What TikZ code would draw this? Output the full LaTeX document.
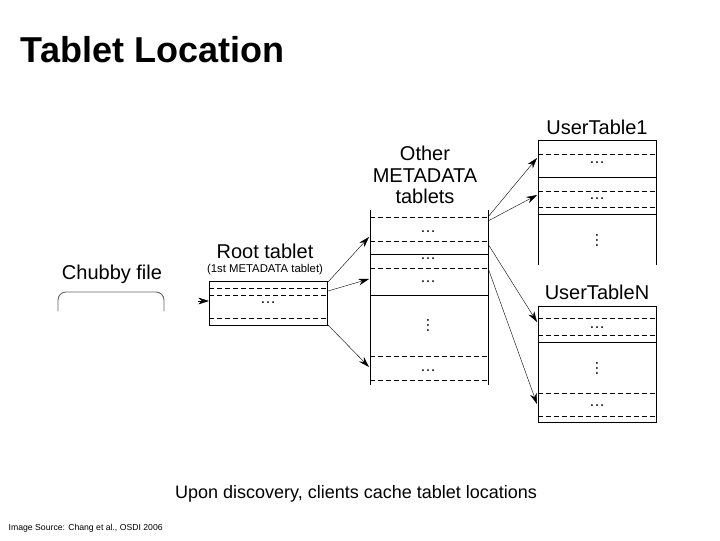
\documentclass[tikz,border=0pt]{standalone}
\usepackage{fontspec}
\setmainfont{Liberation Sans}
\usetikzlibrary{arrows.meta}
\begin{document}
\begin{tikzpicture}[x=0.75pt,y=-0.75pt,
  dsh/.style={dash pattern=on 3.5pt off 2.5pt,line width=0.5pt},
  sol/.style={line width=0.6pt},
  arr/.style={-{Stealth[length=8pt,width=5pt]},line width=0.3pt},
  lbl/.style={font=\fontsize{15}{16}\selectfont,align=center},
  dots/.style={font=\fontsize{12}{12}\selectfont,inner sep=0}]
\useasboundingbox (0,0) rectangle (720,540);
\node[font=\bfseries\fontsize{27}{30}\selectfont,anchor=west] (title) at (16,50) {Tablet Location};
% Chubby file
\node[lbl] (chubby) at (112,274) {Chubby file};
\draw[line width=0.7pt,black!60,rounded corners=6pt] (58,311) -- (58,292) -- (164,292) -- (164,311);
% Root
\node[lbl] (root) at (265,251) {Root tablet};
\node[font=\fontsize{8.5}{9}\selectfont] (rootsub) at (265,270) {(1st METADATA tablet)};
\draw[sol] (209,281) rectangle (327,325);
\foreach \y in {288,295,318} \draw[dsh] (209,\y) -- (327,\y);
\node[dots] (rd) at (268,303) {\dots};
\coordinate (rin0) at (198,301); \coordinate (rin) at (209,301);
\draw[arr] (rin0) -- (rin);
% Other METADATA
\node[lbl,font=\fontsize{15}{16}\selectfont] (other) at (425,175) {Other\\METADATA\\tablets};
\draw[sol] (370,210) -- (370,385) (488,210) -- (488,385);
\foreach \y in {217,241,268,356,380} \draw[dsh] (370,\y) -- (488,\y);
\foreach \y in {254,295} \draw[sol] (370,\y) -- (488,\y);
\foreach \y in {232,259,282,371} \node[dots] at (428,\y) {\dots};
\node[dots,rotate=90] at (428,325) {\dots};
% UserTable1
\node[lbl] (ut1) at (597,127) {UserTable1};
\draw[sol] (538,265) -- (538,140) -- (656,140) -- (656,265);
\foreach \y in {154,191,207} \draw[dsh] (538,\y) -- (656,\y);
\foreach \y in {177,214} \draw[sol] (538,\y) -- (656,\y);
\foreach \y in {163,199} \node[dots] at (597,\y) {\dots};
\node[dots,rotate=90] at (597,240) {\dots};
% UserTableN
\node[lbl] (utn) at (597,292) {UserTableN};
\draw[sol] (538,306) rectangle (656,422);
\foreach \y in {318,335,393,416} \draw[dsh] (538,\y) -- (656,\y);
\draw[sol] (538,342) -- (656,342);
\foreach \y in {328,406} \node[dots] at (597,\y) {\dots};
\node[dots,rotate=90] at (597,368) {\dots};
% arrow coordinates
\coordinate (r1) at (328,282); \coordinate (m1) at (369,237);
\coordinate (r2) at (328,291); \coordinate (m2) at (369,279);
\coordinate (r3) at (328,325); \coordinate (m3) at (369,367);
\coordinate (o1) at (488,217); \coordinate (u1) at (537,158);
\coordinate (o2) at (488,221); \coordinate (u2) at (537,195);
\coordinate (o3) at (488,244); \coordinate (u3) at (537,322);
\coordinate (o4) at (488,268); \coordinate (u4) at (537,404);
\foreach \a/\b in {r1/m1,r2/m2,r3/m3,o1/u1,o2/u2,o3/u3,o4/u4} \draw[arr] (\a) -- (\b);
\node[font=\fontsize{13.5}{15}\selectfont] (cap) at (356,494) {Upon discovery, clients cache tablet locations};
\node[font=\fontsize{6.5}{8}\selectfont,anchor=west] (src) at (4,528) {Image Source: Chang et al., OSDI 2006};
\end{tikzpicture}
\end{document}
